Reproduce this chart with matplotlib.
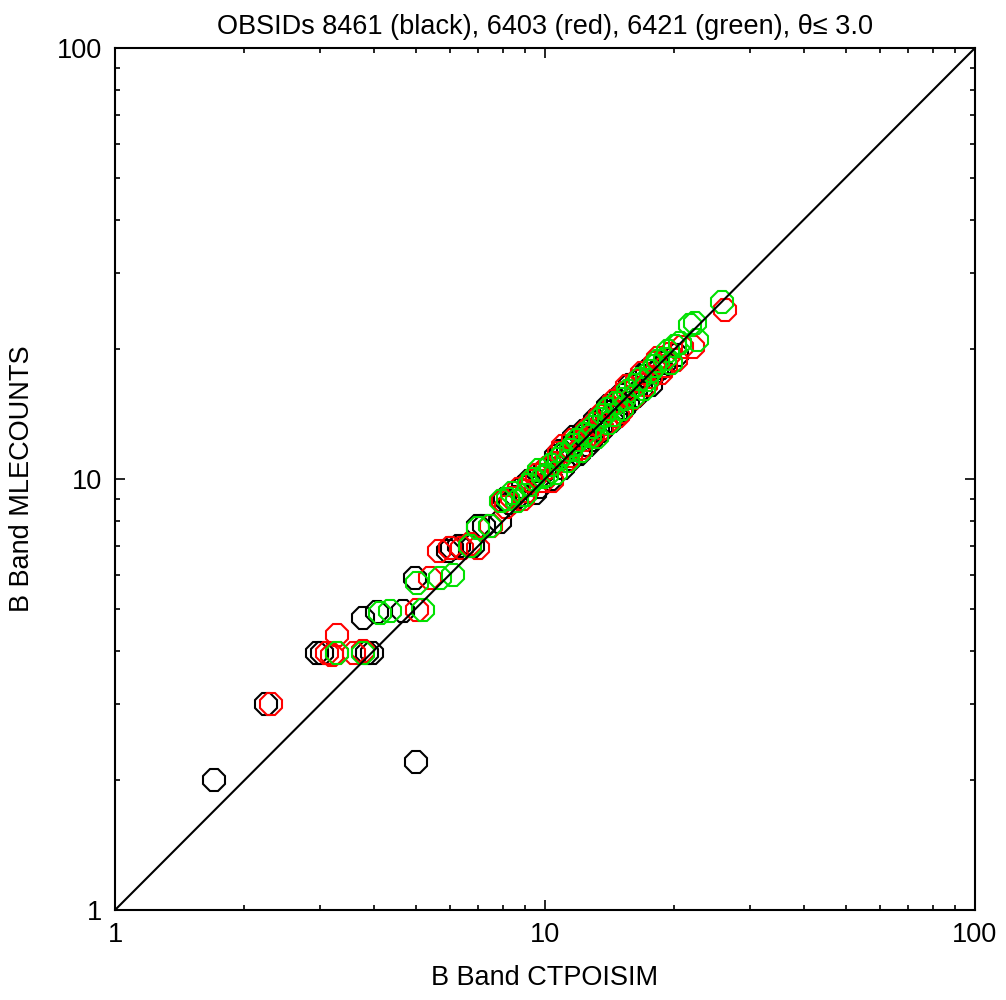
import matplotlib
matplotlib.use("Agg")
import matplotlib.pyplot as plt
import numpy as np

plt.rcParams['font.family'] = ['Liberation Sans', 'DejaVu Sans']

# OBSID 8461 (black)
black_x = [1.7, 2.25, 5.0, 2.95, 3.03, 3.85, 3.96, 3.77, 4.06, 4.67, 4.98, 5.95, 6.08, 6.8, 7.2, 7.86,
           8.06, 8.6, 9.2, 9.5, 9.8, 10.3, 10.6, 11.0, 11.3, 11.7, 12.0, 12.3, 12.8, 13.1, 13.5, 13.9,
           14.3, 14.8, 15.3, 15.8, 16.3, 17.0, 17.6, 18.2, 19.0, 20.3,
           8.3, 8.9, 9.7, 10.0, 10.9, 11.5, 12.2, 12.6, 13.3, 14.0, 14.6, 15.0, 15.6, 16.7, 17.3,
           18.6, 6.3, 7.0]
black_y = [2.0, 3.0, 2.2, 3.95, 3.95, 3.95, 3.95, 4.76, 4.92, 4.95, 5.9, 6.8, 6.92, 7.0, 7.8, 7.93,
           9.0, 9.1, 9.9, 9.3, 10.2, 10.0, 11.3, 10.6, 11.8, 12.5, 11.4, 12.9, 12.3, 13.7, 12.9, 14.3,
           13.6, 15.2, 14.6, 16.5, 15.6, 17.3, 16.5, 17.8, 18.6, 19.4,
           8.8, 9.6, 9.6, 10.5, 11.6, 11.1, 12.6, 12.0, 13.2, 14.8, 14.0, 15.7, 15.0, 16.2, 17.8,
           18.1, 7.0, 7.8]

# OBSID 6403 (red)
red_x = [2.3, 3.11, 3.2, 3.28, 3.28, 3.6, 3.77, 5.04, 5.4, 5.67, 6.41, 7.0, 6.7, 7.5, 8.38, 8.0,
         8.9, 9.3, 9.6, 10.1, 10.4, 10.8, 11.2, 11.6, 12.1, 12.5, 12.9, 13.4, 13.9, 14.5, 15.0, 15.5,
         16.0, 16.8, 17.2, 18.0, 18.6, 19.5, 20.2, 20.8, 22.1, 26.2,
         8.1, 8.7, 9.1, 9.9, 10.6, 11.0, 11.5, 12.3, 13.0, 13.6, 14.2, 14.8, 15.3, 16.4, 17.6,
         18.3, 19.1, 6.0]
red_y = [3.0, 3.95, 3.9, 4.35, 3.95, 3.95, 4.0, 4.97, 5.9, 6.81, 6.92, 6.9, 7.05, 7.8, 9.03, 8.9,
         9.0, 9.9, 10.2, 10.6, 9.9, 11.5, 11.0, 12.3, 11.8, 13.0, 12.6, 14.0, 13.4, 15.2, 14.3, 16.4,
         15.4, 17.6, 16.5, 18.6, 17.6, 19.5, 18.9, 20.2, 20.2, 24.7,
         8.6, 9.5, 9.4, 9.9, 10.9, 11.9, 11.3, 12.3, 13.4, 13.1, 14.7, 14.0, 15.8, 16.9, 17.2,
         19.1, 18.3, 6.9]

# OBSID 6421 (green)
green_x = [3.28, 3.77, 4.13, 4.36, 5.2, 5.04, 5.7, 6.1, 6.69, 6.98, 7.45, 8.2, 8.6, 9.0, 9.4, 9.9,
           10.3, 10.6, 11.0, 11.3, 11.7, 12.1, 12.4, 12.9, 13.2, 13.7, 14.1, 14.6, 15.1, 15.6, 16.0,
           16.6, 17.0, 17.6, 18.3, 19.0, 19.6, 20.6, 21.7, 22.3, 22.6, 25.8,
           7.9, 8.4, 9.2, 9.7, 10.1, 10.8, 11.5, 11.9, 12.7, 13.4, 14.0, 14.4, 15.3, 16.3, 17.3,
           18.0, 19.3, 20.1]
green_y = [3.95, 3.95, 4.89, 4.95, 4.97, 5.74, 5.9, 6.0, 7.0, 7.69, 7.8, 9.0, 8.9, 9.2, 10.0, 10.1,
           10.8, 10.3, 11.4, 11.0, 12.0, 11.6, 12.7, 13.2, 12.5, 14.1, 13.5, 15.0, 14.5, 16.0, 15.5,
           17.1, 16.2, 17.8, 18.8, 19.0, 18.6, 20.7, 22.8, 23.0, 21.0, 25.7,
           8.9, 9.3, 9.7, 10.5, 10.2, 11.1, 11.7, 12.3, 12.6, 13.8, 14.5, 14.1, 15.3, 16.5, 17.0,
           18.3, 19.8, 20.4]

title = "OBSIDs 8461 (black), 6403 (red), 6421 (green), θ≤ 3.0"
xlabel = "B Band CTPOISIM"
ylabel = "B Band MLECOUNTS"

fig = plt.figure(figsize=(10.06, 10.0), dpi=100)
ax = fig.add_axes([115/1006, 90/1000, 860/1006, 862/1000])

mk = dict(marker='8', linestyle='none', markersize=16.5, markerfacecolor='none', markeredgewidth=1.5)
ax.plot(black_x, black_y, markeredgecolor='black', **mk)
ax.plot(red_x, red_y, markeredgecolor='#ff0000', **mk)
ax.plot(green_x, green_y, markeredgecolor='#00e000', **mk)
ax.plot([1, 100], [1, 100], color='black', lw=1.5)

ax.set_xscale('log')
ax.set_yscale('log')
ax.set_xlim(1, 100)
ax.set_ylim(1, 100)
ax.set_xticks([1, 10, 100])
ax.set_xticklabels(['1', '10', '100'])
ax.set_yticks([1, 10, 100])
ax.set_yticklabels(['1', '10', '100'])
ax.tick_params(which='both', direction='in', top=True, right=True, labelsize=19.5, width=1.2)
ax.tick_params(which='major', length=7, pad=9)
ax.tick_params(which='minor', length=3.5)
ax.xaxis.set_minor_formatter(matplotlib.ticker.NullFormatter())
ax.yaxis.set_minor_formatter(matplotlib.ticker.NullFormatter())
for s in ax.spines.values():
    s.set_linewidth(1.5)

ax.set_title(title, fontsize=19.5, pad=10)
ax.set_xlabel(xlabel, fontsize=19.5, labelpad=12)
ax.set_ylabel(ylabel, fontsize=19.5, labelpad=16)

fig.savefig('out.png', dpi=100)
